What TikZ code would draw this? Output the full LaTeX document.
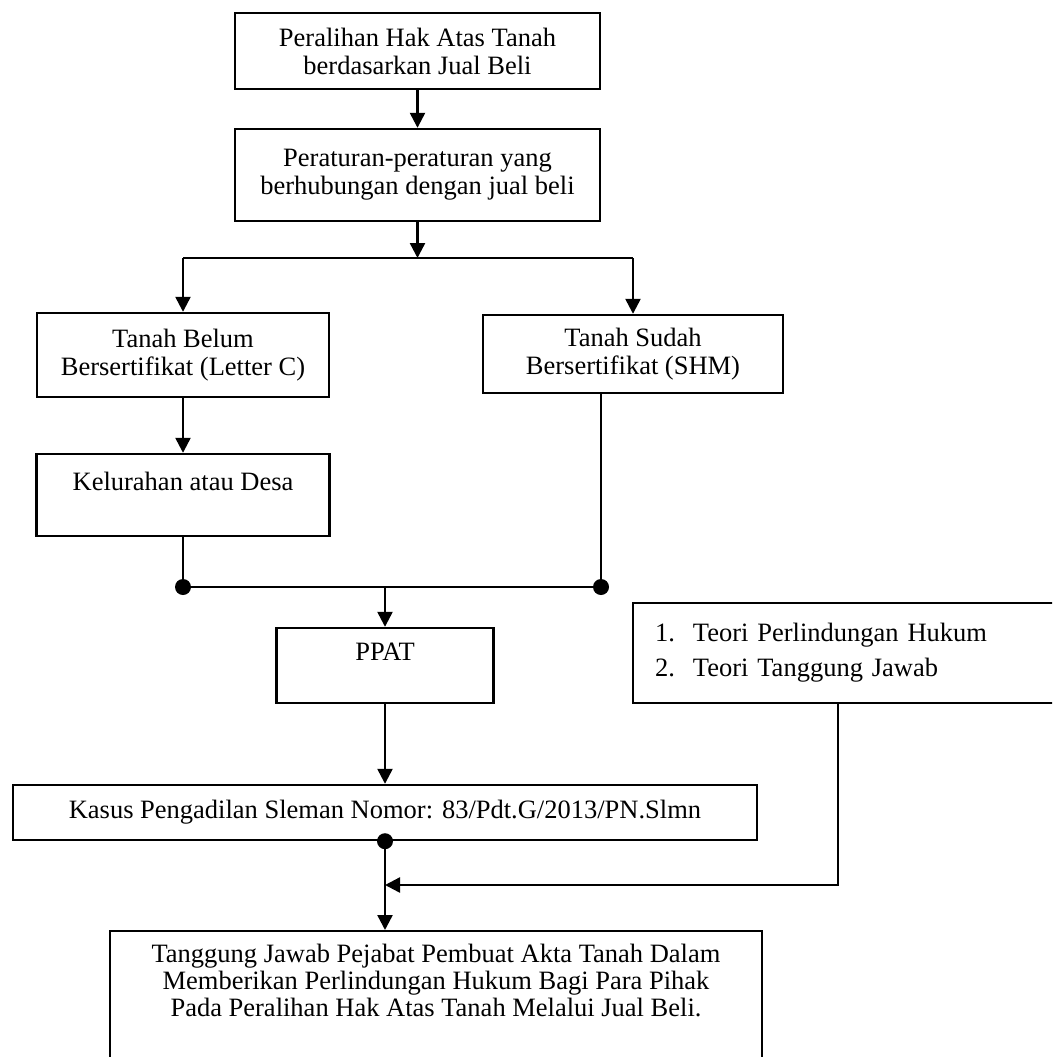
\documentclass[tikz,border=0pt]{standalone}
\usepackage{fontspec}
\setmainfont{Liberation Serif}
\usetikzlibrary{arrows.meta}
\usepackage{xcolor}

\begin{document}
\begin{tikzpicture}[x=1pt,y=-1pt]
    \useasboundingbox (0,0) rectangle (1052,1057);
    \clip (0,0) rectangle (1052,1057);

    \begin{scope}[every node/.style={rectangle,draw,line width=2.4pt,align=center,inner sep=0pt,font=\fontsize{26.5}{28}\selectfont}]
      \node[minimum width=365pt,minimum height=76pt] (1) at (417.5,51) {Peralihan Hak Atas Tanah\\berdasarkan Jual Beli};
      \node[minimum width=365pt,minimum height=92pt] (2) at (417.5,175) {Peraturan-peraturan yang\\berhubungan dengan jual beli};
      \node[minimum width=292pt,minimum height=84pt] (3) at (183,355) {Tanah Belum\\Bersertifikat (Letter C)};
      \node[minimum width=300pt,minimum height=78pt] (4) at (633,354) {Tanah Sudah\\Bersertifikat (SHM)};
      \node[minimum width=293pt,minimum height=82pt] (5) at (183,495) {Kelurahan atau Desa\\~};
      \node[minimum width=217pt,minimum height=75pt] (6) at (385,665.5) {PPAT\\~};
      \node[minimum width=744pt,minimum height=55pt] (7) at (385,812.5) {Kasus Pengadilan Sleman Nomor: 83/Pdt.G/2013/PN.Slmn};
      \node[minimum height=100pt,text width=393pt,align=left,inner xsep=22pt] (8) at (851.5,653)
        {\makebox[38pt][l]{1.}Teori Perlindungan Hukum\\[7pt]\makebox[38pt][l]{2.}Teori Tanggung Jawab};
      \node[minimum width=652pt,anchor=north,inner ysep=13pt] (9) at (436,930)
        {Tanggung Jawab Pejabat Pembuat Akta Tanah Dalam\\[-1pt]Memberikan Perlindungan Hukum Bagi Para Pihak\\[-1pt]Pada Peralihan Hak Atas Tanah Melalui Jual Beli.\\[20pt]~};
    \end{scope}

    \coordinate (b) at (417.5,258);
    \coordinate (bl) at (183,258);
    \coordinate (br) at (633,258);
    \coordinate (jl) at (183,587);
    \coordinate (jr) at (601,587);
    \coordinate (jm) at (385,587);
    \coordinate (t) at (838,885);
    \coordinate (m) at (385,885);

    \begin{scope}[>={Triangle[length=15pt,width=15pt]},line width=2.4pt]
      \path [->] (1) edge (2);
      \path [->] (2) edge (b);
      \draw (bl) -- (br);
      \path [->] (bl) edge (3);
      \path [->] (br) edge (4);
      \path [->] (3) edge (5);
      \draw (5) -- (jl);
      \draw (4.south -| jr) -- (jr);
      \draw (jl) -- (jr);
      \path [->] (jm) edge (6);
      \path [->] (6) edge (7);
      \path [->] (7.south) edge (7.south |- 9.north);
      \draw [->] (8.south -| t) -- (t) -- (m);
      \fill (jl) circle (8pt);
      \fill (jr) circle (8pt);
      \fill (7.south) circle (8pt);
    \end{scope}
\end{tikzpicture}
\end{document}
